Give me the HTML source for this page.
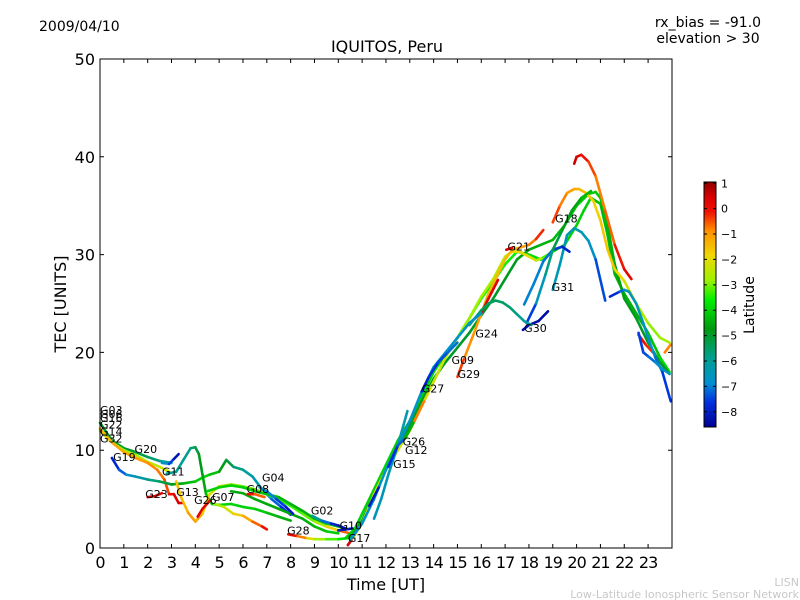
<!DOCTYPE html>
<html><head><meta charset="utf-8"><style>
body{margin:0;background:#fff;width:800px;height:600px;overflow:hidden}
svg{display:block;font-family:"DejaVu Sans","Liberation Sans",sans-serif}
</style></head><body>
<svg id="chart" width="800" height="600" viewBox="0 0 800 600">
<defs>
<linearGradient id="cbg" x1="0" y1="0" x2="0" y2="1">
<stop offset="0" stop-color="#900000"/><stop offset="0.06" stop-color="#d80000"/><stop offset="0.12" stop-color="#f01000"/>
<stop offset="0.2" stop-color="#ff9000"/><stop offset="0.3" stop-color="#f0d800"/><stop offset="0.4" stop-color="#a0f000"/>
<stop offset="0.48" stop-color="#00f000"/><stop offset="0.6" stop-color="#009a10"/><stop offset="0.72" stop-color="#00a090"/>
<stop offset="0.82" stop-color="#0090d0"/><stop offset="0.9" stop-color="#0030e0"/><stop offset="1" stop-color="#000090"/>
</linearGradient>
</defs>
<text x="39" y="31" font-size="14">2009/04/10</text>
<text x="708" y="27" font-size="14" text-anchor="middle">rx_bias = -91.0</text>
<text x="708" y="43" font-size="14" text-anchor="middle">elevation &gt; 30</text>
<text x="387" y="52" font-size="16" text-anchor="middle">IQUITOS, Peru</text>
<g id="plot"></g>
<rect x="100" y="59" width="572" height="489" fill="none" stroke="#000" stroke-width="1"/>
<g id="axes"></g>
<text x="386" y="590" font-size="16" text-anchor="middle">Time [UT]</text>
<text transform="translate(66,304) rotate(-90)" font-size="16" text-anchor="middle">TEC [UNITS]</text>
<rect x="704" y="182" width="12" height="245" fill="url(#cbg)" stroke="#000" stroke-width="1"/>
<g id="cbticks"></g>
<text transform="translate(754,305) rotate(-90)" font-size="14" text-anchor="middle">Latitude</text>
<text x="799" y="586" font-size="11" fill="#c8c8c8" text-anchor="end">LISN</text>
<text x="799" y="598" font-size="11" fill="#c8c8c8" text-anchor="end">Low-Latitude Ionospheric Sensor Network</text>
</svg>
<script>
const xTicks=[0,1,2,3,4,5,6,7,8,9,10,11,12,13,14,15,16,17,18,19,20,21,22,23];
const yTicks=[0,10,20,30,40,50];
const latTicks=[1,0,-1,-2,-3,-4,-5,-6,-7,-8];
const series=[
{t:[0,0.5,1,1.5,2,2.5,3],v:[12.8,11,10.2,9.8,9.3,8.9,8.7],lat:[-5,-5,-5,-5.2,-5.4,-5.8,-6.3]},
{t:[2.6,2.9,3.1,3.3],v:[8.7,8.6,9.1,9.6],lat:[-6.5,-7,-8,-8.3]},
{t:[0,0.5,1,1.5,2,2.5,2.9],v:[12,10.8,10,9.5,8.8,8.3,7.8],lat:[-2.8,-2.8,-2.7,-2.6,-2.5,-2.4,-2.3]},
{t:[0,0.5,1,1.5,2,2.4,2.7,2.9,3.1,3.3,3.5],v:[12.2,10.8,9.8,9.2,8.7,8,7,5.5,5.5,4.6,4.6],lat:[-1.5,-1.3,-1.2,-1,-1,-0.8,-0.6,0,0.5,0.6,0.6]},
{t:[0.5,0.8,1.1,1.5,2,2.5,3,3.5,4,4.3,4.6,5,5.3,5.6,6,6.4,6.8,7.2,7.6,8],v:[9.2,8,7.5,7.3,7,6.8,6.5,6.6,6.8,7.2,7.5,7.8,9,8.3,8,7.3,6,5,4.2,3.4],lat:[-8.2,-7.5,-7,-6.5,-6,-5.5,-5,-4.5,-4.2,-4,-4,-4.5,-5,-5.5,-6,-6.3,-6.5,-7,-7.5,-8]},
{t:[2.8,3.2,3.5,3.8,4,4.15,4.3,4.45,4.7,5,5.5,6,6.5,7,7.5,8],v:[7.6,7.8,9,10.2,10.3,9.6,7.5,5.5,4.5,4.4,4.5,4.2,4,3.6,3.2,2.8],lat:[-6,-6,-6,-5.8,-5.5,-5,-4.8,-4.5,-4,-4,-4,-4,-4,-4.2,-4.5,-4.5]},
{t:[4.8,5.2,5.6,6,6.4,6.8,7],v:[4.5,4.2,3.5,3.3,2.7,2.2,1.9],lat:[-3,-2.5,-2,-1.5,-1,0,0.5]},
{t:[3.2,3.4,3.7,4,4.3,4.6,5,5.5,6,6.5,7,7.5,8,8.5,9,9.5,10,10.5],v:[6.8,5.2,3.6,2.7,3.5,5.5,6.3,6.5,6.3,6,5.5,5,4.3,3.5,2.7,2.2,1.8,1.5],lat:[-1.5,-1.8,-1.2,-1,-1.5,-2,-2.5,-2.8,-3,-3,-3.2,-3.3,-3.4,-3.2,-3,-2.5,-1,0]},
{t:[4.5,5,5.5,6,6.5,7,7.5,8,8.5,9,9.5,10,10.3],v:[5.8,6.2,6.4,6.2,5.8,5.5,5.2,4.5,3.8,3,2.5,2.2,2],lat:[-4,-4,-4,-4,-4.2,-4.2,-4.3,-4.5,-4.5,-4.5,-4.5,-4.3,-4]},
{t:[5.5,6,6.5,7,7.5,8,8.5,9,9.5,10],v:[5.8,5.6,5,4.5,4,3.5,3,2.2,1.7,1.5],lat:[-4.6,-4.6,-4.6,-4.6,-4.6,-4.6,-4.6,-4.4,-4.2,-4]},
{t:[6.7,7,7.4,7.8,8.1],v:[6.2,5.8,5,4.2,3.5],lat:[-6.5,-6.8,-7.2,-7.8,-8.2]},
{t:[8.9,9.3,9.7,10,10.3],v:[3.3,2.8,2.5,2.3,2],lat:[-5.5,-6.5,-7.8,-8,-8.2]},
{t:[10,10.3,10.6],v:[1.8,1.9,2],lat:[-8,-8,-8]},
{t:[7.9,8.3,8.7,9,9.5,10,10.4],v:[1.4,1.2,1,0.9,0.9,0.9,1],lat:[0.5,0,-1.5,-2.5,-3,-3.5,-4]},
{t:[10.4,10.55],v:[0.3,0.8],lat:[0.6,0.6]},
{t:[2,2.3,2.6],v:[5.2,5.3,5.6],lat:[0.5,0.5,0.3]},
{t:[4.1,4.3,4.6],v:[3.2,4,4.8],lat:[0.5,0.5,0.4]},
{t:[6.2,6.5,6.9],v:[5.5,5.5,5.2],lat:[0.5,0,-1]},
{t:[10.3,10.7,11,11.5,12,12.5,13,13.5,14,14.5,15,15.5,16,16.5,17,17.5,18,18.5,19,19.5,20,20.3,20.6,21,21.3,21.6,22,22.5,23,23.5,23.9],v:[1,2,3.5,6,8.5,11,13,15.5,18,19.8,21.5,23.5,25.5,27.2,29,30.3,30,29.5,30.3,31,33,34.5,35.8,35.2,32,28,26,24,22,19.5,18],lat:[-4,-4,-4,-4,-4,-4,-4,-4,-4,-3.8,-3.6,-3.5,-3.5,-3.5,-3.5,-3.6,-3.8,-4,-4,-4,-4,-4,-4.2,-4.3,-4.4,-4.4,-4.5,-4.5,-4.5,-4,-3.8]},
{t:[10.5,11,11.5,12,12.5,13,13.5,14,14.5,15,15.5,16,16.5,17,17.5,18,18.5,19,19.5,20,20.5,20.8,21,21.3,21.6,22,22.5,23,23.5,23.9],v:[1,2.8,5.5,8,10.3,12.5,15,17.3,19,20.5,22,23.8,25.5,27.5,29.5,30.5,31,31.5,33,35,36.2,36.4,35.8,33,29,25.5,23.5,21,19,17.8],lat:[-5,-5,-5,-5,-5,-5,-5,-5,-5,-5,-5,-5,-5,-5,-4.8,-4.6,-4.5,-4.4,-4.3,-4.2,-4.1,-4.1,-4.2,-4.4,-4.6,-4.8,-5,-5,-5,-5]},
{t:[10.6,11,11.5,12,12.5,13,13.5,14,14.5,15,15.5,16,16.5,17,17.3,17.6,18,18.3,18.6,19],v:[1,2.5,5.5,8,10,12,14.5,17,19.5,21.5,23.5,25.7,27.5,29.8,30.3,30.3,29.8,29.4,29.7,30.3],lat:[-2.2,-2.2,-2.2,-2.2,-2.2,-2.2,-2.2,-2.2,-2.5,-2.8,-2.8,-2.8,-2.6,-2.4,-2.2,-2,-2,-2.2,-3,-3.5]},
{t:[15,15.3,15.7,16,16.3,16.6,17,17.3,17.6,18,18.3,18.6],v:[17.5,19.5,22,24,26,27.5,29.5,30.5,30.7,31,31.6,32.5],lat:[0.5,-0.8,-1,-1.2,-1.4,-1.5,-1.5,-1.4,-1.2,-1,-0.5,0.5]},
{t:[16,16.3,16.7],v:[24,25.5,27.4],lat:[0.5,0.5,0.5]},
{t:[17.05,17.3],v:[30.5,30.7],lat:[0.6,0.6]},
{t:[19,19.3,19.6,19.9,20.1,20.4,20.7,21,21.3,21.6,22,22.5,23,23.5,23.9],v:[33.3,35,36.3,36.7,36.7,36.3,35.5,33.5,30.5,28.5,27.3,25,23,21.5,21],lat:[0,-0.5,-1,-1.2,-1.4,-1.6,-1.8,-1.8,-1.5,-1.8,-2,-2.5,-2.8,-3,-2.5]},
{t:[19.9,20,20.2,20.5,20.8,21.2,21.6,22,22.3],v:[39.3,40,40.2,39.5,38,34.5,31,28.5,27.5],lat:[0.7,0.6,0.5,0,-0.5,-1,0,0.3,0.5]},
{t:[22.6,22.9,23.2],v:[21.8,20.8,20],lat:[0.3,0.3,-0.3]},
{t:[23.7,23.95],v:[20,20.8],lat:[-0.8,-0.8]},
{t:[19,19.3,19.6,19.9,20.2,20.5,20.8,21.2],v:[26.4,29,32,32.7,32.3,31.4,29.5,25.3],lat:[-6.5,-6.5,-6.5,-6.3,-6.3,-6.5,-7,-7.8]},
{t:[17.8,18.2,18.6,19,19.4,19.7],v:[24.9,27,29.3,30.5,30.8,30.3],lat:[-7,-7,-7,-7.3,-7.8,-8]},
{t:[21.4,21.8,22,22.2,22.5,22.8,23,23.3,23.6,23.95],v:[25.7,26.2,26.4,26.2,25,23,21.5,19.5,18,15],lat:[-8,-7.5,-7,-6.5,-6.5,-6.5,-6.8,-7,-7.3,-7.8]},
{t:[22.6,22.8,23,23.3,23.6,23.9],v:[22,20,19.6,19,18.3,17.8],lat:[-7.5,-7.5,-7.3,-7,-6.8,-6.5]},
{t:[17.75,18,18.4,18.8],v:[22.3,22.8,23.2,24.2],lat:[-8.3,-8.3,-8.3,-8.3]},
{t:[17.9,18.3,18.7,19,19.4,19.8,20.2,20.6],v:[23,25,28,30.5,32.5,34.5,35.8,36.5],lat:[-8,-7,-6,-5.5,-5,-4.8,-4.5,-4.3]},
{t:[15.5,16,16.3,16.6,16.9,17.2,17.5,17.8,18.1],v:[22.8,24.3,25,25.3,25.1,24.6,23.9,23.2,22.8],lat:[-5.5,-5.5,-5.5,-5.5,-5.5,-5.6,-5.8,-6,-6.2]},
{t:[10.5,11,11.5,12,12.5,13,13.5,14,14.5,15,15.5,16],v:[0.8,2.5,5,8,10.5,13,16,18.5,20,21.5,23,24],lat:[-6.8,-6.8,-6.8,-6.8,-6.8,-6.8,-6.8,-6.8,-6.8,-6.8,-6.8,-6.8]},
{t:[11.5,11.8,12.1,12.5,12.9],v:[3,5,7.5,10.5,14],lat:[-6.5,-6.5,-6.5,-6.4,-6.3]},
{t:[11.3,11.7],v:[4.3,6.2],lat:[-8,-8]},
{t:[12.1,12.5,12.8,13.2,13.6],v:[8.3,10.5,11.2,13,15],lat:[-7.8,-7.5,-7,-2,0.5]},
{t:[13.5,13.8,14.2,14.6,15],v:[16,17.5,19,20,21],lat:[-8,-7.8,-7.5,-7.3,-7]}
];
const labelNames=["G03","G06","G16","G22","G14","G32","G20","G19","G11","G23","G13","G26","G07","G08","G04","G02","G10","G28","G17","G15","G12","G26","G27","G09","G29","G24","G30","G31","G21","G18"];
const labelT=[0,0,0,0,0,0,1.45,0.55,2.6,1.9,3.2,3.95,4.7,6.15,6.8,8.85,10.05,7.85,10.4,12.3,12.8,12.7,13.5,14.75,15.0,15.75,17.8,18.95,17.1,19.1];
const labelV=[13.7,13.3,12.9,12.2,11.5,10.8,9.7,8.9,7.4,5.1,5.3,4.5,4.8,5.6,6.8,3.4,1.9,1.4,0.6,8.2,9.6,10.5,15.9,18.8,17.4,21.5,22.1,26.3,30.4,33.3];
const X=t=>100+t*23.83, Y=v=>548-v*9.78;
const stops=[[1.05,[144,0,0]],[0.6,[216,0,0]],[0.2,[240,16,0]],[-0.9,[255,144,0]],[-1.9,[240,216,0]],[-2.8,[160,240,0]],[-3.6,[0,240,0]],[-4.8,[0,154,16]],[-5.9,[0,160,144]],[-6.9,[0,144,208]],[-7.6,[0,48,224]],[-8.6,[0,0,144]]];
function col(l){if(l>=stops[0][0])return 'rgb('+stops[0][1]+')';for(let i=0;i<stops.length-1;i++){const a=stops[i],b=stops[i+1];if(l<=a[0]&&l>=b[0]){const f=(a[0]-l)/(a[0]-b[0]);return 'rgb('+a[1].map((c,k)=>Math.round(c+(b[1][k]-c)*f)).join(',')+')';}}return 'rgb(0,0,144)';}
const NS='http://www.w3.org/2000/svg';
const plot=document.getElementById('plot');
series.forEach((s,si)=>{
 const g=document.createElementNS(NS,'g');
 
 
 for(let i=0;i<s.t.length-1;i++){
  const ln=document.createElementNS(NS,'line');
  ln.setAttribute('x1',X(s.t[i]));ln.setAttribute('y1',Y(s.v[i]));
  ln.setAttribute('x2',X(s.t[i+1]));ln.setAttribute('y2',Y(s.v[i+1]));
  ln.setAttribute('stroke',col((s.lat[i]+s.lat[i+1])/2));
  ln.setAttribute('stroke-width','2.6');ln.setAttribute('stroke-linecap','round');
  
  
  g.appendChild(ln);
 }
 plot.appendChild(g);
});
labelNames.forEach((n,i)=>{
 const tx=document.createElementNS(NS,'text');
 tx.setAttribute('x',X(labelT[i]));tx.setAttribute('y',Y(labelV[i]));
 tx.setAttribute('font-size','11');tx.textContent=n;
 
 
 plot.appendChild(tx);
});
const axes=document.getElementById('axes');
xTicks.forEach(t=>{
 const x=X(t);
 const p=document.createElementNS(NS,'path');
 p.setAttribute('d',`M${x},548v-4M${x},59v4`);p.setAttribute('stroke','#000');
 
 
 axes.appendChild(p);
 const tx=document.createElementNS(NS,'text');
 tx.setAttribute('x',x);tx.setAttribute('y',568);tx.setAttribute('font-size','16');tx.setAttribute('text-anchor','middle');
 tx.setAttribute('letter-spacing','-1');tx.textContent=t;
 
 
 axes.appendChild(tx);
});
yTicks.forEach(v=>{
 const y=Y(v);
 const p=document.createElementNS(NS,'path');
 p.setAttribute('d',`M100,${y}h4M672,${y}h-4`);p.setAttribute('stroke','#000');
 
 
 axes.appendChild(p);
 const tx=document.createElementNS(NS,'text');
 tx.setAttribute('x',95);tx.setAttribute('y',y+6);tx.setAttribute('font-size','16');tx.setAttribute('text-anchor','end');
 tx.textContent=v;
 
 
 axes.appendChild(tx);
});
const cb=document.getElementById('cbticks');
latTicks.forEach(l=>{
 const y=182+(1.05-l)/(1.05+8.6)*245;
 const p=document.createElementNS(NS,'path');
 p.setAttribute('d',`M704,${y}h3M716,${y}h-3`);p.setAttribute('stroke','#000');
 
 
 cb.appendChild(p);
 const tx=document.createElementNS(NS,'text');
 tx.setAttribute('x',721);tx.setAttribute('y',y+4);tx.setAttribute('font-size','11');
 tx.textContent=l<0?'\u2212'+(-l):l;
 
 
 cb.appendChild(tx);
});
</script>
</body></html>
